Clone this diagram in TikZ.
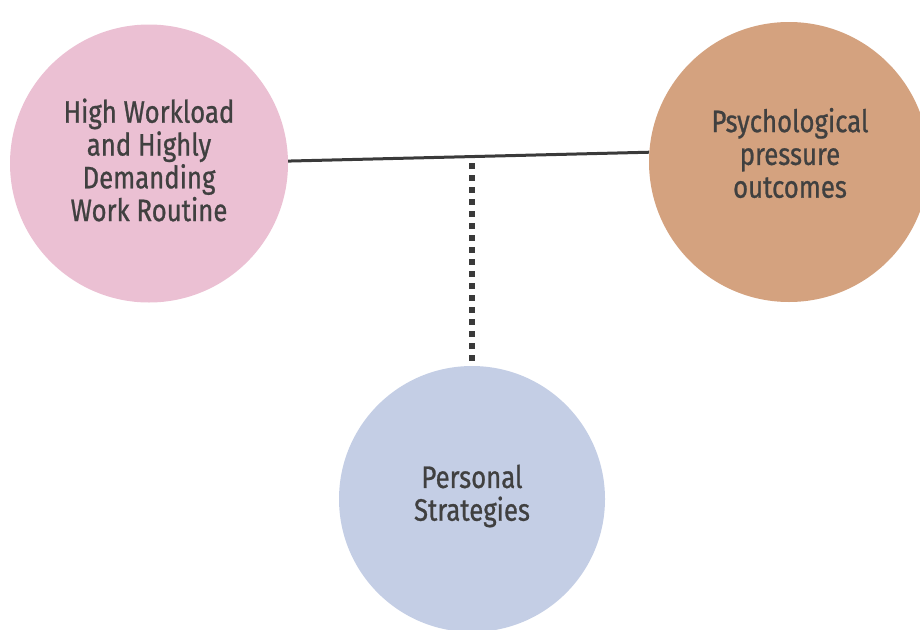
\documentclass[tikz,border=0pt]{standalone}
\usepackage{fontspec}
\setmainfont{Fira Sans}[FakeStretch=0.83,FakeBold=0.8]
\definecolor{pinkc}{HTML}{EBC0D3}
\definecolor{orangec}{HTML}{D4A27F}
\definecolor{bluec}{HTML}{C4CEE5}
\definecolor{txtc}{HTML}{404040}
\definecolor{linec}{HTML}{3A3A3A}
\begin{document}
\begin{tikzpicture}[x=1pt,y=-1pt,
  blob/.style={circle,inner sep=0pt,draw=none},
  lbl/.style={align=center,text=txtc,font=\fontsize{31}{32.8}\selectfont},
  conn/.style={draw=linec,line width=3pt},
  dotconn/.style={draw=linec,line width=6pt,dash pattern=on 6pt off 6pt}]
\useasboundingbox (0,0) rectangle (920,629);
\node[blob,fill=pinkc,minimum size=278pt] (work) at (149,163.5) {};
\node[blob,fill=orangec,minimum size=280pt] (psy) at (789,162) {};
\node[blob,fill=bluec,minimum size=266pt] (pers) at (472,499) {};
\node[lbl] (worklbl) at (149,160) {High Workload\\and Highly\\Demanding\\Work Routine};
\node[lbl] (psylbl) at (790,153) {Psychological\\pressure\\outcomes};
\node[lbl] (perslbl) at (472,496) {Personal\\Strategies};
\coordinate (a) at (work.1.4);
\coordinate (b) at (psy.176.3);
\coordinate (j) at (472,163);
\draw[conn] (a) -- (b);
\draw[dotconn] (j) -- (pers.north);
\end{tikzpicture}
\end{document}
